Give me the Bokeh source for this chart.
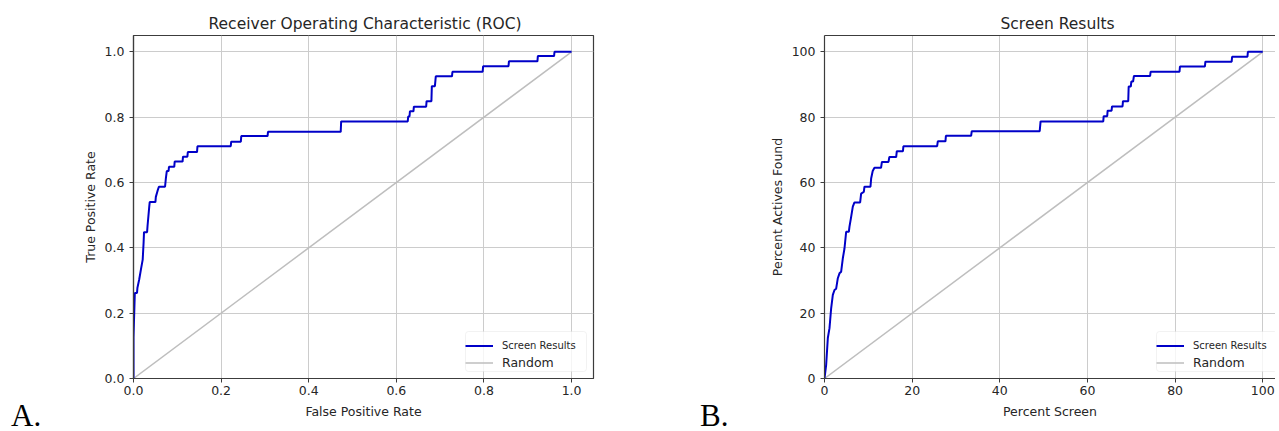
from bokeh.plotting import figure
from bokeh.layouts import row
from bokeh.models import (Legend, LegendItem, Div, FixedTicker, PrintfTickFormatter,
                          LinearAxis, Range1d, BasicTickFormatter, BoxAnnotation)
from bokeh.embed import file_html
from bokeh.resources import INLINE

# ---------------- data ----------------
# Panel A: ROC curve (vertices)
roc_fpr = [0.0, 0.0, 0.003, 0.008, 0.009, 0.013, 0.017, 0.021, 0.023, 0.024, 0.031, 0.032,
           0.036, 0.037, 0.050, 0.051, 0.055, 0.058, 0.072, 0.074, 0.076, 0.080, 0.081,
           0.093, 0.094, 0.112, 0.113, 0.123, 0.124, 0.145, 0.146, 0.222, 0.223, 0.245,
           0.246, 0.306, 0.307, 0.473, 0.474, 0.626, 0.627, 0.630, 0.631, 0.639, 0.640,
           0.668, 0.669, 0.680, 0.681, 0.688, 0.690, 0.727, 0.728, 0.797, 0.798, 0.856,
           0.857, 0.922, 0.923, 0.960, 0.961, 1.0]
roc_tpr = [0.0, 0.125, 0.262, 0.262, 0.278, 0.303, 0.334, 0.364, 0.415, 0.448, 0.448, 0.466,
           0.527, 0.540, 0.540, 0.556, 0.575, 0.587, 0.587, 0.614, 0.635, 0.635, 0.648,
           0.648, 0.664, 0.664, 0.679, 0.679, 0.693, 0.693, 0.711, 0.711, 0.725, 0.725,
           0.742, 0.742, 0.755, 0.755, 0.787, 0.787, 0.802, 0.802, 0.818, 0.818, 0.832,
           0.832, 0.849, 0.849, 0.895, 0.895, 0.925, 0.925, 0.939, 0.939, 0.956, 0.956,
           0.971, 0.971, 0.987, 0.987, 1.0, 1.0]

# Panel B: screen results (vertices)
screen_pct = [0.0, 0.38, 0.76, 1.14, 1.52, 1.9, 2.28, 2.66, 3.04, 3.42, 3.8, 4.18, 4.56, 4.94,
              5.55, 5.7, 6.08, 6.46, 6.84, 8.13, 8.36, 8.97, 9.12, 10.49, 10.64, 11.0, 11.4,
              12.9, 13.1, 14.6, 14.8, 16.35, 16.5, 17.9, 18.0, 25.7, 25.85, 27.6, 27.7,
              33.45, 33.6, 49.1, 49.3, 63.6, 63.7, 64.5, 64.6, 65.5, 65.6, 68.0, 68.1,
              69.3, 69.4, 69.9, 70.0, 70.4, 70.6, 74.3, 74.4, 81.0, 81.1, 86.8, 86.9,
              92.9, 93.0, 96.5, 96.6, 100.0]
actives_pct = [0.0, 4.2, 12.4, 15.4, 21.5, 25.6, 27.1, 27.5, 30.7, 32.2, 32.7, 36.8, 39.8, 44.9,
               44.9, 46.5, 49.5, 52.6, 53.9, 53.9, 56.6, 57.1, 58.7, 58.7, 61.2, 63.5, 64.5,
               64.5, 66.3, 66.3, 67.8, 67.8, 69.6, 69.6, 71.1, 71.1, 72.6, 72.6, 74.3,
               74.3, 75.7, 75.7, 78.7, 78.7, 80.3, 80.3, 82.0, 82.0, 83.3, 83.3, 84.9,
               84.9, 89.4, 89.4, 90.9, 90.9, 92.6, 92.6, 93.9, 93.9, 95.5, 95.5, 97.0,
               97.0, 98.5, 98.5, 100.0, 100.0]

random_a = [0.0, 1.0]
random_b = [0.0, 100.0]

ticks_a = [0.0, 0.2, 0.4, 0.6, 0.8, 1.0]
ticks_b = [0, 20, 40, 60, 80, 100]

titles = ["Receiver Operating Characteristic (ROC)", "Screen Results"]
xlabels = ["False Positive Rate", "Percent Screen"]
ylabels = ["True Positive Rate", "Percent Actives Found"]
panel_tags = ["A.", "B."]
series_names = ["Screen Results", "Random"]

# ---------------- style ----------------
FONT = "DejaVu Sans"
TXT = "#262626"
FRAME = "#3c3c3c"
BLUE = "#0000c8"
GRAY = "#bebebe"
GRID = "#cccccc"
H = 428


def make_panel(xs, ys, rx, ry, ticks, xend, yend, width, mb_left, mb_right,
               title, xlabel, ylabel, title_offset, fmt, full_outline):
    p = figure(width=width, height=H, output_backend="svg", toolbar_location=None,
               x_range=Range1d(0, xend), y_range=Range1d(0, yend),
               min_border_left=mb_left, min_border_right=mb_right,
               min_border_top=35, min_border_bottom=50)
    p.title.text = title
    p.title.text_font = FONT
    p.title.text_font_size = "15.5px"
    p.title.text_font_style = "normal"
    p.title.text_color = TXT
    p.title.align = "left"
    p.title.offset = title_offset
    p.title.standoff = 5

    p.background_fill_color = "white"
    p.border_fill_color = "white"

    for ax, lab in ((p.below[0], xlabel), (p.left[0], ylabel)):
        ax.ticker = FixedTicker(ticks=ticks)
        ax.formatter = fmt
        ax.axis_label = lab
        ax.axis_label_text_font = FONT
        ax.axis_label_text_font_size = "12.5px"
        ax.axis_label_text_font_style = "normal"
        ax.axis_label_text_color = TXT
        ax.major_label_text_font = FONT
        ax.major_label_text_font_size = "12.5px"
        ax.major_label_text_color = TXT
        ax.axis_line_color = FRAME
        ax.axis_line_width = 1.2
        ax.major_tick_line_color = FRAME
        ax.major_tick_out = 4
        ax.major_tick_in = 0
        ax.minor_tick_out = 0
        ax.minor_tick_in = 0
    p.below[0].major_label_standoff = 3
    p.below[0].axis_label_standoff = 6
    p.left[0].major_label_standoff = 5
    p.left[0].axis_label_standoff = 4

    if full_outline:
        p.outline_line_color = FRAME
        p.outline_line_width = 1.2
    else:
        p.outline_line_color = None
        top = LinearAxis(ticker=FixedTicker(ticks=[]), axis_line_color=FRAME,
                         axis_line_width=1.2, major_tick_out=0, major_tick_in=0,
                         minor_tick_out=0, minor_tick_in=0, major_label_standoff=0,
                         major_label_text_font_size="0px")
        p.add_layout(top, "above")

    p.grid.grid_line_color = GRID
    p.grid.grid_line_width = 1

    r_rand = p.line(rx, ry, line_color=GRAY, line_width=1.5)
    r_curve = p.line(xs, ys, line_color=BLUE, line_width=2)

    # legend frame (screen px, from the frame's bottom-left corner)
    p.add_layout(BoxAnnotation(left=332, right=453, bottom=7, top=47,
                               left_units="screen", right_units="screen",
                               bottom_units="screen", top_units="screen",
                               fill_color="white", fill_alpha=0.8,
                               line_color="#d4d4d4", line_width=1,
                               border_radius=3, level="annotation"))

    common = dict(orientation="vertical", glyph_width=28, glyph_height=17,
                  label_height=17, label_standoff=9, padding=3, spacing=0, margin=0,
                  label_width=60, label_text_font=FONT, label_text_color=TXT,
                  border_line_color=None, background_fill_alpha=0.0)
    leg_random = Legend(items=[LegendItem(label=series_names[1], renderers=[r_rand])],
                        location=(332, 7), label_text_font_size="12.5px", **common)
    leg_screen = Legend(items=[LegendItem(label=series_names[0], renderers=[r_curve])],
                        location=(332, 24), label_text_font_size="10px", **common)
    p.add_layout(leg_random)
    p.add_layout(leg_screen)
    return p


def tag_div(text, width, left):
    html = ('<div style="margin-top:404px;margin-left:%dpx;font-family:\'Liberation Serif\';'
            'font-size:31px;line-height:24px;color:#000;white-space:nowrap;">%s</div>'
            % (left, text))
    return Div(text=html, width=width, height=H, margin=0)


div_a = tag_div(panel_tags[0], 60, 11)
pa = make_panel(roc_fpr, roc_tpr, random_a, random_a, ticks_a, 1.05, 1.05, 579, 73, 46,
                titles[0], xlabels[0], ylabels[0], 75,
                PrintfTickFormatter(format="%.1f"), True)
div_b = tag_div(panel_tags[1], 90, 61)
pb = make_panel(screen_pct, actives_pct, random_b, random_b, ticks_b, 102.9, 105, 546, 95, 0,
                titles[1], xlabels[1], ylabels[1], 176,
                BasicTickFormatter(), False)

layout = row(div_a, pa, div_b, pb)
open("out.html", "w").write(file_html(layout, INLINE))
